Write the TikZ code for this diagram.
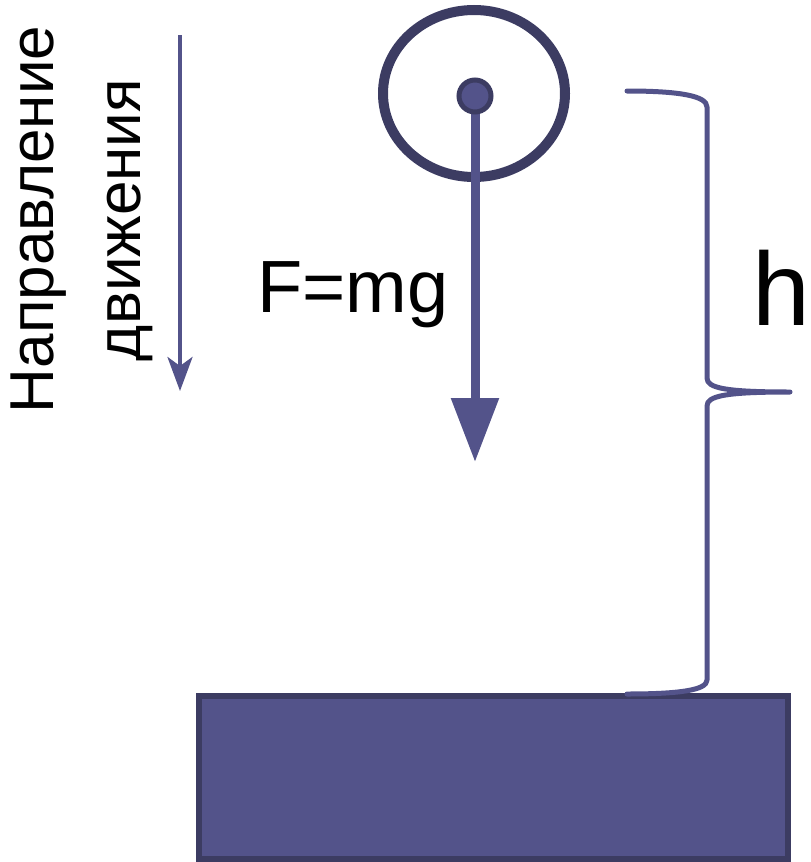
\documentclass[tikz,border=0pt]{standalone}
\usepackage{fontspec}
\setmainfont{Liberation Sans}
\usetikzlibrary{arrows.meta,shapes.geometric}
\definecolor{darkv}{HTML}{3C3C62}
\definecolor{midv}{HTML}{53538A}
\tikzset{
  lbl/.style={inner sep=0pt, outer sep=0pt, text=black},
  bracepath/.style={draw=midv, line width=5pt, line join=round, line cap=round},
}
\begin{document}
\begin{tikzpicture}[x=1pt,y=-1pt]
\useasboundingbox (0,0) rectangle (811,862);
% rotated labels
\node[lbl, rotate=90, anchor=base west, font=\fontsize{62}{62}\selectfont] (t1) at (53,413) {Направление};
\node[lbl, rotate=90, anchor=base west, font=\fontsize{62}{62}\selectfont] (t2) at (140,361) {движения};
% direction arrow
\coordinate (da) at (180,35);
\coordinate (db) at (180,391);
\draw[midv, line width=4pt, -{Stealth[length=34pt,width=25pt,inset=9pt]}] (da) -- (db);
% ellipse (body)
\node[ellipse, draw=darkv, line width=10pt, minimum width=182pt, minimum height=167pt, inner sep=0pt] (body) at (474,93.5) {};
% force arrow
\coordinate (ftip) at (475,462);
\draw[midv, line width=9pt, -{Triangle[length=64pt,width=46pt]}] (475,96) -- (ftip);
\node[circle, draw=darkv, fill=midv, line width=5pt, minimum size=32pt, inner sep=0pt] (dot) at (475,96) {};
\node[lbl, anchor=base west, font=\fontsize{74}{74}\selectfont] (f) at (257,312) {F=mg};
% ground
\node[rectangle, draw=darkv, fill=midv, line width=5.5pt, minimum width=589pt, minimum height=163pt, inner sep=0pt] (ground) at (493.5,777.5) {};
% brace
\coordinate (b1) at (627,91);
\coordinate (b2) at (627,694);
\coordinate (bt) at (790,392);
\draw[bracepath] (b1) .. controls (680,91) and (707,96) .. (707,107) -- (707,378)
  .. controls (707,388) and (725,392) .. (bt)
  .. controls (725,392) and (707,396) .. (707,406) -- (707,680)
  .. controls (707,690) and (680,694) .. (b2);
\node[lbl, anchor=base west, font=\fontsize{104}{104}\selectfont] (h) at (752,325) {h};
\end{tikzpicture}
\end{document}
